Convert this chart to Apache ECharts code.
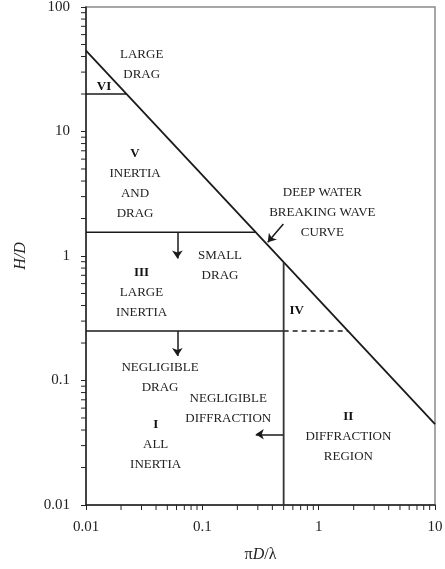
<!DOCTYPE html>
<html>
<head>
<meta charset="utf-8">
<script src="https://cdn.jsdelivr.net/npm/echarts@6/dist/echarts.min.js"></script>
<style>
  html, body { margin: 0; padding: 0; background: #fff; }
  #chart { width: 445px; height: 569px; }
</style>
</head>
<body>
<div id="chart"></div>
<script>
// Axis ranges and tick labels (log-log)
const xTickLabels = ['0.01', '0.1', '1', '10'];
const yTickLabels = ['0.01', '0.1', '1', '10', '100'];

// Deep water breaking wave limit
const breakingX = [0.01, 10];
const breakingHD = [44.6, 0.0446];

// Region boundaries
const regionVIX = [0.01, 0.0223];
const regionVIHD = [20, 20];
const inertiaDragX = [0.01, 0.29];
const inertiaDragHD = [1.55, 1.55];
const largeInertiaX = [0.01, 0.5];
const largeInertiaHD = [0.25, 0.25];
const largeInertiaExtX = [0.5, 1.78];
const largeInertiaExtHD = [0.25, 0.25];
const diffractionX = [0.5, 0.5];
const diffractionHD = [0.01, 0.89];

// Arrows: [fromX, fromHD, toX, toHD]
const arrowFromX = [0.061, 0.061, 0.5, 0.497];
const arrowFromHD = [1.55, 0.25, 0.037, 1.81];
const arrowToX = [0.061, 0.061, 0.288, 0.365];
const arrowToHD = [0.955, 0.157, 0.037, 1.29];

// Region annotations
const noteText = [
  '{b|VI}',
  'LARGE\nDRAG',
  '{b|V}\nINERTIA\nAND\nDRAG',
  'DEEP WATER\nBREAKING WAVE\nCURVE',
  'SMALL\nDRAG',
  '{b|III}\nLARGE\nINERTIA',
  '{b|IV}',
  'NEGLIGIBLE\nDRAG',
  'NEGLIGIBLE\nDIFFRACTION',
  '{b|I}\nALL\nINERTIA',
  '{b|II}\nDIFFRACTION\nREGION'
];
const noteX = [0.0143, 0.0301, 0.0264, 1.075, 0.1419, 0.030, 0.647, 0.0433, 0.167, 0.0397, 1.80];
const noteHD = [22.8, 34.2, 3.79, 2.216, 0.839, 0.505, 0.361, 0.1062, 0.0599, 0.0305, 0.0357];

const SERIF = "'Liberation Serif', 'DejaVu Serif', serif";
const INK = '#1a1a1a';

function zip(xs, ys) { return xs.map((x, i) => [x, ys[i]]); }

// Minor tick positions (2..9 within each decade)
const minorTicks = [];
[0.01, 0.1, 1].forEach(d => { for (let k = 2; k <= 9; k++) minorTicks.push([+(d * k).toPrecision(3), 0.01, 0]); });
[0.01, 0.1, 1, 10].forEach(d => { for (let k = 2; k <= 9; k++) minorTicks.push([0.01, +(d * k).toPrecision(3), 1]); });

function segment(xs, ys, opts) {
  return Object.assign({
    type: 'line',
    data: zip(xs, ys),
    symbol: 'none',
    silent: true,
    animation: false,
    lineStyle: { color: INK, width: 1.5 }
  }, opts || {});
}

const chart = echarts.init(document.getElementById('chart'), null, { renderer: 'canvas' });

chart.setOption({
  backgroundColor: '#fff',
  animation: false,
  grid: {
    left: 86, right: 10, top: 7, bottom: 64,
    show: true, borderColor: '#8a8a8a', borderWidth: 1.5,
    outerBoundsMode: 'none'
  },
  xAxis: {
    type: 'log', logBase: 10, min: 0.01, max: 10,
    name: 'π{i|D}/λ',
    nameLocation: 'middle', nameGap: 42,
    nameTextStyle: {
      fontFamily: SERIF, fontSize: 16, color: '#222',
      rich: { i: { fontFamily: SERIF, fontSize: 16, fontStyle: 'italic', color: '#222' } }
    },
    axisLine: { show: true, lineStyle: { color: '#222', width: 1.5 } },
    axisTick: { show: true, length: 5, inside: false, lineStyle: { color: '#222', width: 1 } },
    axisLabel: {
      fontFamily: SERIF, fontSize: 15, color: '#222', margin: 15,
      formatter: (v, i) => xTickLabels[i]
    },
    splitLine: { show: false }
  },
  yAxis: {
    type: 'log', logBase: 10, min: 0.01, max: 100,
    name: 'H/D',
    nameLocation: 'middle', nameGap: 57, nameRotate: 90,
    nameTextStyle: { fontFamily: SERIF, fontSize: 16, fontStyle: 'italic', color: '#222' },
    axisLine: { show: true, lineStyle: { color: '#222', width: 1.5 } },
    axisTick: { show: true, length: 5, inside: false, lineStyle: { color: '#222', width: 1 } },
    axisLabel: {
      fontFamily: SERIF, fontSize: 15, color: '#222', margin: 16,
      formatter: (v, i) => yTickLabels[i]
    },
    splitLine: { show: false }
  },
  series: [
    segment(breakingX, breakingHD, { lineStyle: { color: INK, width: 1.8 } }),
    segment(regionVIX, regionVIHD),
    segment(inertiaDragX, inertiaDragHD),
    segment(largeInertiaX, largeInertiaHD),
    segment(largeInertiaExtX, largeInertiaExtHD, { lineStyle: { color: INK, width: 1.5, type: [5, 4] } }),
    segment(diffractionX, diffractionHD, { lineStyle: { color: '#333', width: 1.8 } }),
    {
      type: 'lines',
      coordinateSystem: 'cartesian2d',
      silent: true,
      animation: false,
      symbol: ['none', 'arrow'],
      symbolSize: 8,
      lineStyle: { color: INK, width: 1.5, opacity: 1 },
      data: arrowFromX.map((x, i) => ({
        coords: [[x, arrowFromHD[i]], [arrowToX[i], arrowToHD[i]]]
      }))
    },
    {
      // minor log ticks on both axes
      type: 'custom',
      silent: true,
      animation: false,
      clip: false,
      data: minorTicks,
      renderItem: (params, api) => {
        const p = api.coord([api.value(0), api.value(1)]);
        const horiz = api.value(2) === 1;
        return {
          type: 'line',
          shape: horiz
            ? { x1: p[0] - 5, y1: p[1], x2: p[0], y2: p[1] }
            : { x1: p[0], y1: p[1], x2: p[0], y2: p[1] + 5 },
          style: { stroke: '#222', lineWidth: 1 }
        };
      }
    },
    {
      // region labels
      type: 'custom',
      silent: true,
      animation: false,
      clip: false,
      data: noteX.map((x, i) => [x, noteHD[i], i]),
      renderItem: (params, api) => {
        const p = api.coord([api.value(0), api.value(1)]);
        return {
          type: 'text',
          x: p[0], y: p[1],
          style: {
            text: noteText[api.value(2)],
            fontFamily: SERIF, fontSize: 13, fill: '#222',
            align: 'center', verticalAlign: 'middle', lineHeight: 20,
            rich: {
              b: { fontFamily: SERIF, fontSize: 13, fontWeight: 'bold', fill: '#111', lineHeight: 20 }
            }
          }
        };
      }
    }
  ]
});
</script>
</body>
</html>
